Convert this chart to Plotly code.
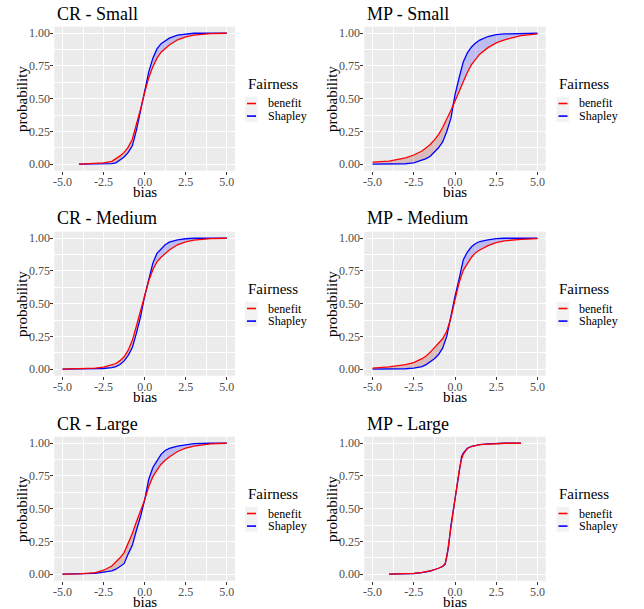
import numpy as np
import plotly.graph_objects as go

W, H = 644, 609

# ---------------- data ----------------
BIAS_FULL = [-5, -4, -3, -2.5, -2, -1.75, -1.5, -1.25, -1, -0.75, -0.5, -0.25,
             0, 0.25, 0.5, 0.75, 1, 1.25, 1.5, 2, 2.5, 3, 4, 5]
BIAS_CR_SMALL = [-4, -3, -2.5, -2, -1.75, -1.5, -1.25, -1, -0.75, -0.5, -0.25,
                 0, 0.25, 0.5, 0.75, 1, 1.25, 1.5, 2, 2.5, 3, 4, 5]
BIAS_MP_LARGE = [-4, -3, -2.5, -2, -1.5, -1, -0.75, -0.6, -0.5, -0.4, -0.25, -0.1,
                 0, 0.1, 0.25, 0.4, 0.5, 0.75, 1, 1.5, 2, 2.5, 3, 4]

CR_SMALL_BENEFIT = [0, 0.004, 0.01, 0.022, 0.04, 0.063, 0.09, 0.13, 0.19, 0.30, 0.42,
                    0.547, 0.66, 0.745, 0.81, 0.855, 0.885, 0.91, 0.95, 0.972, 0.985, 0.997, 1.0]
CR_SMALL_SHAPLEY = [0, 0, 0, 0.004, 0.01, 0.03, 0.055, 0.09, 0.14, 0.26, 0.40,
                    0.56, 0.705, 0.81, 0.88, 0.92, 0.945, 0.963, 0.985, 0.995, 1.0, 1.0, 1.0]

MP_SMALL_BENEFIT = [0.015, 0.023, 0.048, 0.07, 0.10, 0.125, 0.15, 0.185, 0.226, 0.28, 0.34, 0.41,
                    0.48, 0.56, 0.63, 0.70, 0.76, 0.80, 0.84, 0.89, 0.926, 0.95, 0.982, 0.995]
MP_SMALL_SHAPLEY = [0, 0, 0.003, 0.01, 0.03, 0.042, 0.06, 0.09, 0.125, 0.17, 0.25, 0.35,
                    0.53, 0.66, 0.78, 0.85, 0.895, 0.925, 0.948, 0.975, 0.99, 0.995, 1.0, 1.0]

CR_MEDIUM_BENEFIT = [0, 0.002, 0.008, 0.015, 0.03, 0.043, 0.065, 0.095, 0.145, 0.22, 0.33, 0.44,
                     0.557, 0.675, 0.76, 0.82, 0.855, 0.885, 0.91, 0.95, 0.973, 0.986, 0.997, 1.0]
CR_MEDIUM_SHAPLEY = [0, 0, 0.002, 0.005, 0.012, 0.02, 0.035, 0.063, 0.105, 0.165, 0.275, 0.40,
                     0.557, 0.69, 0.81, 0.885, 0.92, 0.95, 0.97, 0.987, 0.996, 1.0, 1.0, 1.0]

MP_MEDIUM_BENEFIT = [0.008, 0.018, 0.035, 0.05, 0.08, 0.10, 0.13, 0.165, 0.193, 0.232, 0.29, 0.39,
                     0.53, 0.66, 0.755, 0.81, 0.855, 0.89, 0.91, 0.943, 0.966, 0.98, 0.992, 0.997]
MP_MEDIUM_SHAPLEY = [0, 0, 0.003, 0.008, 0.02, 0.035, 0.055, 0.08, 0.112, 0.16, 0.25, 0.41,
                     0.555, 0.69, 0.835, 0.895, 0.935, 0.96, 0.975, 0.988, 0.997, 1.0, 1.0, 1.0]

CR_LARGE_BENEFIT = [0, 0.002, 0.012, 0.03, 0.062, 0.09, 0.125, 0.165, 0.232, 0.31, 0.40, 0.485,
                    0.567, 0.67, 0.745, 0.795, 0.84, 0.87, 0.895, 0.937, 0.962, 0.978, 0.995, 1.0]
CR_LARGE_SHAPLEY = [0, 0.001, 0.006, 0.015, 0.025, 0.038, 0.058, 0.08, 0.155, 0.22, 0.335, 0.44,
                    0.567, 0.725, 0.815, 0.87, 0.915, 0.945, 0.96, 0.978, 0.99, 0.997, 1.0, 1.0]

MP_LARGE_BENEFIT = [0, 0.003, 0.006, 0.013, 0.025, 0.045, 0.06, 0.08, 0.13, 0.22, 0.36, 0.48,
                    0.56, 0.65, 0.79, 0.88, 0.915, 0.96, 0.975, 0.99, 0.995, 0.998, 1.0, 1.0]
MP_LARGE_SHAPLEY = [0, 0.002, 0.005, 0.012, 0.024, 0.045, 0.058, 0.075, 0.15, 0.20, 0.37, 0.50,
                    0.56, 0.67, 0.78, 0.90, 0.925, 0.962, 0.976, 0.99, 0.995, 0.998, 1.0, 1.0]

TITLES = ["CR - Small", "MP - Small", "CR - Medium", "MP - Medium", "CR - Large", "MP - Large"]
SERIES_NAMES = ["benefit", "Shapley"]
LEGEND_TITLE = "Fairness"
X_TITLE = "bias"
Y_TITLE = "probability"
X_TICKS = [-5, -2.5, 0, 2.5, 5]
X_TICK_LABELS = ["-5.0", "-2.5", "0.0", "2.5", "5.0"]
X_MINOR = [-3.75, -1.25, 1.25, 3.75]
Y_TICKS = [0, 0.25, 0.5, 0.75, 1]
Y_TICK_LABELS = ["0.00", "0.25", "0.50", "0.75", "1.00"]
Y_MINOR = [0.125, 0.375, 0.625, 0.875]

PANELS = [
    (BIAS_CR_SMALL, CR_SMALL_BENEFIT, CR_SMALL_SHAPLEY),
    (BIAS_FULL, MP_SMALL_BENEFIT, MP_SMALL_SHAPLEY),
    (BIAS_FULL, CR_MEDIUM_BENEFIT, CR_MEDIUM_SHAPLEY),
    (BIAS_FULL, MP_MEDIUM_BENEFIT, MP_MEDIUM_SHAPLEY),
    (BIAS_FULL, CR_LARGE_BENEFIT, CR_LARGE_SHAPLEY),
    (BIAS_MP_LARGE, MP_LARGE_BENEFIT, MP_LARGE_SHAPLEY),
]

# ---------------- style / layout ----------------
FONT = "Liberation Serif"
RED = "#FF0000"
BLUE = "#0000FF"
RED_FILL = "rgba(139,0,0,0.2)"
BLUE_FILL = "rgba(0,0,255,0.2)"
PANEL_BG = "#EBEBEB"

COL_X = [(54.3, 235.0), (364.3, 545.7)]
ROW_TOP = [26.7, 231.7, 436.7]
PANEL_H = 144.0
LEGEND_LEFT = [245.5, 557.0]


def px(x):
    return x / W


def py(y):
    return 1 - y / H


fig = go.Figure()
layout = dict(
    width=W, height=H, autosize=False,
    margin=dict(l=0, r=0, t=0, b=0),
    paper_bgcolor="white", plot_bgcolor=PANEL_BG,
    showlegend=False,
    font=dict(family=FONT, color="black"),
)
annotations = []
shapes = []

for i, (bias, ben, sha) in enumerate(PANELS):
    r, c = divmod(i, 2)
    k = "" if i == 0 else str(i + 1)
    xa, ya = "x" + k, "y" + k
    x0, x1 = COL_X[c]
    top = ROW_TOP[r]
    bot = top + PANEL_H

    b = np.array(ben, dtype=float)
    s = np.array(sha, dtype=float)
    upper = np.maximum(b, s)
    common = dict(x=bias, mode="lines", xaxis=xa, yaxis=ya, hoverinfo="skip",
                  showlegend=False)
    # blue ribbon where Shapley > benefit
    fig.add_trace(go.Scatter(y=b, line=dict(width=0), **common))
    fig.add_trace(go.Scatter(y=upper, line=dict(width=0), fill="tonexty",
                             fillcolor=BLUE_FILL, **common))
    # red ribbon where benefit > Shapley
    fig.add_trace(go.Scatter(y=s, line=dict(width=0), **common))
    fig.add_trace(go.Scatter(y=upper, line=dict(width=0), fill="tonexty",
                             fillcolor=RED_FILL, **common))
    # lines
    fig.add_trace(go.Scatter(y=s, line=dict(color=BLUE, width=1.3), name=SERIES_NAMES[1], **common))
    fig.add_trace(go.Scatter(y=b, line=dict(color=RED, width=1.3), name=SERIES_NAMES[0], **common))

    tickfont = dict(family=FONT, size=12, color="#4D4D4D")
    layout["xaxis" + k] = dict(
        domain=[px(x0), px(x1)], anchor=ya, range=[-5.5, 5.5],
        tickmode="array", tickvals=X_TICKS, ticktext=X_TICK_LABELS,
        ticks="outside", ticklen=3, tickwidth=1, tickcolor="#333333",
        ticklabelstandoff=-3,
        tickfont=tickfont, showgrid=True, gridcolor="white", gridwidth=1,
        minor=dict(tickmode="array", tickvals=X_MINOR, showgrid=True,
                   gridcolor="white", gridwidth=0.5, ticks=""),
        zeroline=False, showline=False, fixedrange=True,
    )
    layout["yaxis" + k] = dict(
        domain=[py(bot), py(top)], anchor=xa, range=[-0.05, 1.05],
        tickmode="array", tickvals=Y_TICKS, ticktext=Y_TICK_LABELS,
        ticks="outside", ticklen=3, tickwidth=1, tickcolor="#333333",
        ticklabelstandoff=-2,
        tickfont=tickfont, showgrid=True, gridcolor="white", gridwidth=1,
        minor=dict(tickmode="array", tickvals=Y_MINOR, showgrid=True,
                   gridcolor="white", gridwidth=0.5, ticks=""),
        zeroline=False, showline=False, fixedrange=True,
    )

    # panel title
    annotations.append(dict(text=TITLES[i], x=px(x0 + 0.7), y=py(top - 13.2),
                            xref="paper", yref="paper", xanchor="left", yanchor="middle",
                            showarrow=False, font=dict(family=FONT, size=18, color="black")))
    # axis titles
    annotations.append(dict(text=X_TITLE, x=px((x0 + x1) / 2), y=py(bot + 21.5),
                            xref="paper", yref="paper", xanchor="center", yanchor="middle",
                            showarrow=False, font=dict(family=FONT, size=15, color="black")))
    annotations.append(dict(text=Y_TITLE, x=px(x0 - 33), y=py((top + bot) / 2),
                            xref="paper", yref="paper", xanchor="center", yanchor="middle",
                            textangle=-90, showarrow=False,
                            font=dict(family=FONT, size=15, color="black")))

    # legend (built by hand, one per panel as in the reference)
    lx = LEGEND_LEFT[c]
    annotations.append(dict(text=LEGEND_TITLE, x=px(lx), y=py(top + 57.5),
                            xref="paper", yref="paper", xanchor="left", yanchor="middle",
                            showarrow=False, font=dict(family=FONT, size=15, color="black")))
    shapes.append(dict(type="rect", xref="paper", yref="paper",
                       x0=px(lx - 0.5), x1=px(lx + 12.2), y0=py(top + 95), y1=py(top + 70.3),
                       fillcolor="#F2F2F2", line=dict(width=0), layer="below"))
    for j, (name, col) in enumerate(zip(SERIES_NAMES, [RED, BLUE])):
        yk = top + 76.8 + 12.6 * j
        shapes.append(dict(type="line", xref="paper", yref="paper",
                           x0=px(lx + 1.5), x1=px(lx + 10.5), y0=py(yk), y1=py(yk),
                           line=dict(color=col, width=1.6)))
        annotations.append(dict(text=name, x=px(lx + 20), y=py(yk),
                                xref="paper", yref="paper", xanchor="left", yanchor="middle",
                                showarrow=False, font=dict(family=FONT, size=12, color="black")))

layout["annotations"] = annotations
layout["shapes"] = shapes
fig.update_layout(**layout)
fig.write_html(
    "out.html",
    config={"displayModeBar": False},
    post_script="document.body.style.margin='0px';document.body.style.overflow='hidden';",
)
